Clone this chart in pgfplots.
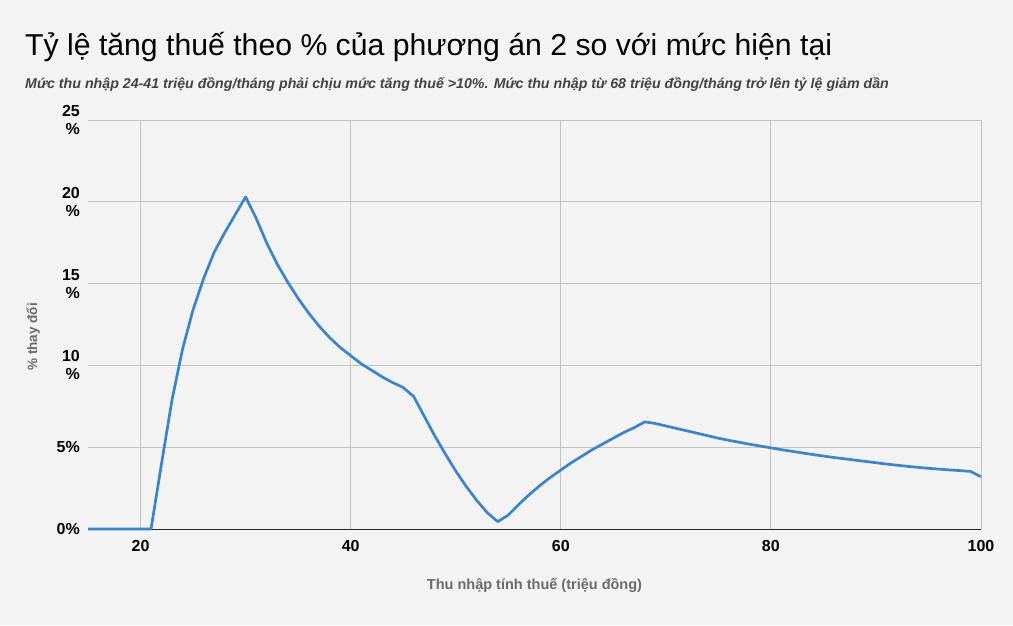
\documentclass[border=0pt]{standalone}
\usepackage{pgfplots}
\pgfplotsset{compat=1.18}
\usepackage{fontspec}
\setmainfont{Liberation Sans}
\definecolor{bg}{HTML}{F3F3F3}
\definecolor{line}{HTML}{3D85C6}
\definecolor{gridc}{HTML}{C4C4C4}
\definecolor{sub}{HTML}{434343}
\definecolor{lab}{HTML}{6B6B6B}
\begin{document}
\begin{tikzpicture}[x=1pt,y=1pt]
\fill[bg] (0,0) rectangle (1013,625);
\useasboundingbox (0,0) rectangle (1013,625);
\node[anchor=west,inner sep=0pt] at (25,578) {\fontsize{30.2}{34}\selectfont Tỷ lệ tăng thuế theo \% của phương án 2 so với mức hiện tại};
\node[anchor=west,inner sep=0pt,text=sub] at (25,540) {\fontsize{14.2}{16}\selectfont\bfseries\itshape Mức thu nhập 24-41 triệu đồng/tháng phải chịu mức tăng thuế >10\%. Mức thu nhập từ 68 triệu đồng/tháng trở lên tỷ lệ giảm dần};
\begin{axis}[
  at={(88pt,96pt)}, anchor=south west,
  scale only axis, width=893pt, height=409pt,
  xmin=15, xmax=100, ymin=0, ymax=25,
  axis x line*=bottom, axis y line*=left,
  x axis line style={draw=black!85, line width=1pt, -},
  y axis line style={draw=none},
  xtick={20,40,60,80,100},
  ytick={0,5,10,15,20,25},
  yticklabels={0\%,5\%,{10\\\%},{15\\\%},{20\\\%},{25\\\%}},
  major tick length=0pt,
  grid=major,
  major grid style={draw=gridc, line width=0.9pt},
  xticklabel style={font=\fontsize{16}{18}\selectfont\bfseries, inner sep=0pt, yshift=-11pt},
  yticklabel style={font=\fontsize{16}{18}\selectfont\bfseries, align=right, inner sep=0pt, xshift=-8pt},
  /pgf/number format/assume math mode=true,
  clip=false,
  xlabel={Thu nhập tính thuế (triệu đồng)},
  xlabel style={font=\fontsize{14.5}{16}\selectfont\bfseries, text=lab, at={(axis description cs:0.5,-0.139)}, anchor=center},
  ylabel={\% thay đổi},
  ylabel style={font=\fontsize{13.5}{15}\selectfont\bfseries, text=lab, at={(axis description cs:-0.0616,0.47)}, anchor=center},
]
\addplot[line, line width=2.7pt, line join=round] coordinates {
(15,0)(16,0)(17,0)(18,0)(19,0)(20,0)(21,0)
(22,4.0)(23,7.9)(24,11.0)(25,13.4)(26,15.3)(27,16.9)(28,18.1)(29,19.2)(30,20.3)
(31,19.0)(32,17.5)(33,16.2)(34,15.1)(35,14.1)(36,13.2)(37,12.4)(38,11.7)(39,11.1)(40,10.6)
(41,10.1)(42,9.7)(43,9.3)(44,8.95)(45,8.65)(46,8.1)(47,6.9)(48,5.7)(49,4.6)(50,3.55)
(51,2.6)(52,1.75)(53,1.0)(54,0.45)(55,0.85)(56,1.5)(57,2.1)(58,2.65)(59,3.15)(60,3.6)
(61,4.05)(62,4.45)(63,4.85)(64,5.2)(65,5.55)(66,5.9)(67,6.2)(68,6.55)(69,6.45)(70,6.3)
(71,6.15)(72,6.0)(73,5.85)(74,5.7)(75,5.55)(76,5.42)(77,5.3)(78,5.18)(79,5.07)(80,4.96)
(81,4.85)(82,4.75)(83,4.65)(84,4.55)(85,4.46)(86,4.37)(87,4.29)(88,4.21)(89,4.13)(90,4.05)
(91,3.97)(92,3.9)(93,3.83)(94,3.77)(95,3.71)(96,3.66)(97,3.61)(98,3.57)(99,3.52)(100,3.2)
};
\end{axis}
\end{tikzpicture}
\end{document}
